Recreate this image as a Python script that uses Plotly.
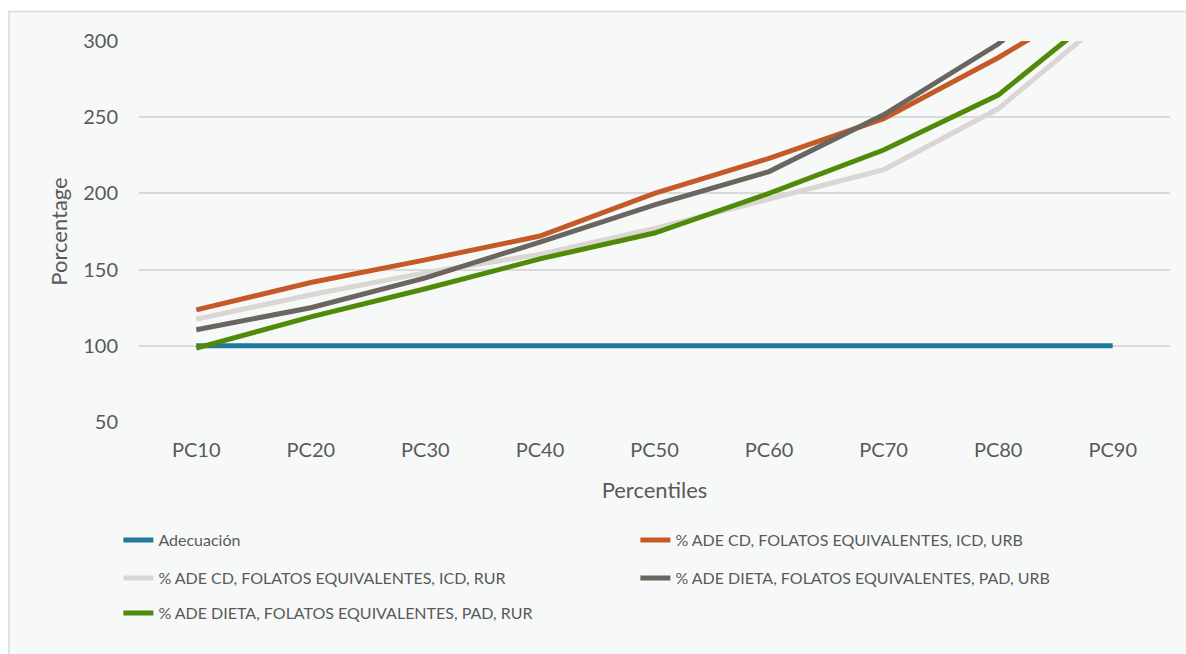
import plotly.graph_objects as go

# Percentile categories on the x axis
percentiles = ["PC10", "PC20", "PC30", "PC40", "PC50", "PC60", "PC70", "PC80", "PC90"]

# Series values (% adequacy)
adecuacion = [100, 100, 100, 100, 100, 100, 100, 100, 100]
cd_icd_urb = [123.6, 141.5, 156.4, 172, 200, 223, 249, 289, 334]
cd_icd_rur = [117.5, 133.5, 148, 160, 177, 196, 215.5, 255.5, 318]
dieta_pad_urb = [110.5, 125, 144.6, 168, 192.5, 214.3, 251.6, 298, 360]
dieta_pad_rur = [98.5, 119, 137.4, 157, 174, 200, 228.5, 264.5, 325]

series_names = [
    "Adecuación",
    "% ADE CD, FOLATOS EQUIVALENTES, ICD, URB",
    "% ADE CD, FOLATOS EQUIVALENTES, ICD, RUR",
    "% ADE DIETA, FOLATOS EQUIVALENTES, PAD, URB",
    "% ADE DIETA, FOLATOS EQUIVALENTES, PAD, RUR",
]
series_values = [adecuacion, cd_icd_urb, cd_icd_rur, dieta_pad_urb, dieta_pad_rur]
series_colors = ["#21799b", "#c55a28", "#d9d6d3", "#69655f", "#518a08"]
# legend rows: two entries on first two rows, one on the last
series_legend = ["legend", "legend", "legend2", "legend2", "legend3"]

y_ticks = [50, 100, 150, 200, 250, 300]

FONT = "Lato, 'Open Sans', sans-serif"
TEXT = "#595959"

fig = go.Figure()
for name, vals, color, leg in zip(series_names, series_values, series_colors, series_legend):
    fig.add_trace(go.Scatter(
        x=percentiles, y=vals, name=name, mode="lines",
        line=dict(color=color, width=5),
        legend=leg,
    ))

# light panel behind the whole chart
fig.add_shape(
    type="rect", xref="paper", yref="paper",
    x0=-0.1261, x1=1.05, y0=-0.7, y1=1.0774,
    fillcolor="#f7f9f9", line=dict(color="#d9d9d9", width=1.5),
    layer="below",
)

legend_common = dict(
    orientation="h", xanchor="left", yanchor="middle",
    bgcolor="rgba(0,0,0,0)", borderwidth=0,
    font=dict(family=FONT, size=16, color=TEXT),
    entrywidth=472, entrywidthmode="pixels",
    itemwidth=30,
)

fig.update_layout(
    width=1186, height=654,
    margin=dict(l=139, r=16, t=41, b=232),
    paper_bgcolor="white",
    plot_bgcolor="rgba(0,0,0,0)",
    font=dict(family=FONT, color=TEXT),
    showlegend=True,
    legend=dict(x=-0.020, y=-0.3097, **legend_common),
    legend2=dict(x=-0.020, y=-0.4094, **legend_common),
    legend3=dict(x=-0.020, y=-0.5013, **legend_common),
    xaxis=dict(
        range=[-0.5, 8.5],
        showgrid=False, zeroline=False, showline=False,
        tickfont=dict(size=20, color=TEXT),
        ticklabelstandoff=14,
        title=dict(text="Percentiles", font=dict(size=22, color=TEXT), standoff=22),
    ),
    yaxis=dict(
        range=[50, 300], tickvals=y_ticks,
        showgrid=True, gridcolor="#d9d9d9", gridwidth=1.5,
        zeroline=False, showline=False,
        tickfont=dict(size=20, color=TEXT),
        ticklabelstandoff=20,
        title=dict(text="Porcentage", font=dict(size=22, color=TEXT), standoff=9),
    ),
)

fig.write_html("out.html")
